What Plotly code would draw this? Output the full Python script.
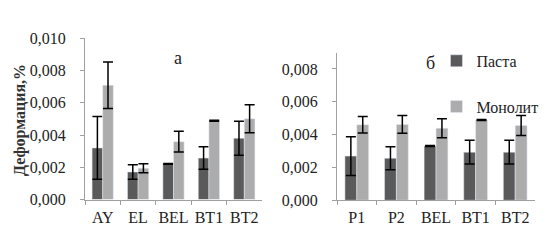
import plotly.graph_objects as go

cats_a = ["AY", "EL", "BEL", "BT1", "BT2"]
pasta_a = [0.0032, 0.00171, 0.00221, 0.00257, 0.00380]
pasta_a_err = [0.00195, 0.00045, 0.00003, 0.0007, 0.00105]
mono_a = [0.00709, 0.00194, 0.00359, 0.00488, 0.00501]
mono_a_err = [0.00144, 0.00028, 0.00064, 0.00003, 0.00087]

cats_b = ["P1", "P2", "BEL", "BT1", "BT2"]
pasta_b = [0.00269, 0.00256, 0.00330, 0.00293, 0.00293]
pasta_b_err = [0.00118, 0.0007, 0.00003, 0.00072, 0.00072]
mono_b = [0.00460, 0.00462, 0.00439, 0.00489, 0.00456]
mono_b_err = [0.0005, 0.00054, 0.00058, 0.00003, 0.00061]

series_names = ["Паста", "Монолит"]
ytick_vals_a = [0, 0.002, 0.004, 0.006, 0.008, 0.010]
ytick_vals_b = [0, 0.002, 0.004, 0.006, 0.008]

C_DARK = "#5a5a5a"
C_LIGHT = "#acacac"
FONT = "Liberation Serif"

def eb(arr):
    return dict(type="data", array=arr, visible=True, color="black", thickness=1.5, width=5)

fig = go.Figure()
fig.add_bar(x=cats_a, y=pasta_a, error_y=eb(pasta_a_err), marker_color=C_DARK,
            name=series_names[0], legendgroup="p", showlegend=True, xaxis="x", yaxis="y")
fig.add_bar(x=cats_a, y=mono_a, error_y=eb(mono_a_err), marker_color=C_LIGHT,
            name=series_names[1], legendgroup="m", showlegend=True, xaxis="x", yaxis="y")
fig.add_bar(x=cats_b, y=pasta_b, error_y=eb(pasta_b_err), marker_color=C_DARK,
            name=series_names[0], legendgroup="p", showlegend=False, xaxis="x2", yaxis="y2")
fig.add_bar(x=cats_b, y=mono_b, error_y=eb(mono_b_err), marker_color=C_LIGHT,
            name=series_names[1], legendgroup="m", showlegend=False, xaxis="x2", yaxis="y2")

axis_common = dict(showline=True, linecolor="#a0a0a0", linewidth=1, ticks="outside",
                   tickcolor="#a0a0a0", ticklen=4, showgrid=False, zeroline=False,
                   tickangle=0,
                   tickfont=dict(family=FONT, size=16, color="#222"))

fig.update_layout(
    width=555, height=240,
    margin=dict(l=0, r=0, t=0, b=0),
    paper_bgcolor="white", plot_bgcolor="white",
    separators=", ",
    barmode="group", bargap=0.4, bargroupgap=0,
    font=dict(family=FONT, size=16, color="#222"),
    xaxis=dict(domain=[77/555, 254/555], anchor="y", type="category",
               tickson="boundaries", ticklabelstandoff=3, **axis_common),
    yaxis=dict(domain=[1-197.5/240, 1-24/240], anchor="x", range=[0, 0.010],
               tickvals=ytick_vals_a, tickformat=".3f", ticklabelstandoff=11, **axis_common),
    xaxis2=dict(domain=[329/555, 527/555], anchor="y2", type="category",
                tickson="boundaries", ticklabelstandoff=3, **axis_common),
    yaxis2=dict(domain=[1-198.3/240, 1-39.3/240], anchor="x2", range=[0, 0.009],
                tickvals=ytick_vals_b, tickformat=".3f", ticklabelstandoff=11, **axis_common),
    legend=dict(x=0.772, y=0.875, xanchor="left", yanchor="top",
                traceorder="grouped", tracegroupgap=22,
                font=dict(family=FONT, size=16, color="#222"),
                bgcolor="rgba(0,0,0,0)", itemwidth=30),
    annotations=[
        dict(text="а", x=170/555, y=1-45/240, xref="paper", yref="paper",
             xanchor="center", yanchor="middle",
             showarrow=False, font=dict(family=FONT, size=18, color="#222")),
        dict(text="б", x=422/555, y=1-51/240, xref="paper", yref="paper",
             xanchor="center", yanchor="middle",
             showarrow=False, font=dict(family=FONT, size=18, color="#222")),
        dict(text="<b>Деформация,%</b>", x=12/555, y=1-112/240, xref="paper", yref="paper",
             xanchor="center", yanchor="middle",
             showarrow=False, textangle=-90, font=dict(family=FONT, size=16, color="#333")),
    ],
)

fig.write_html("out.html")
